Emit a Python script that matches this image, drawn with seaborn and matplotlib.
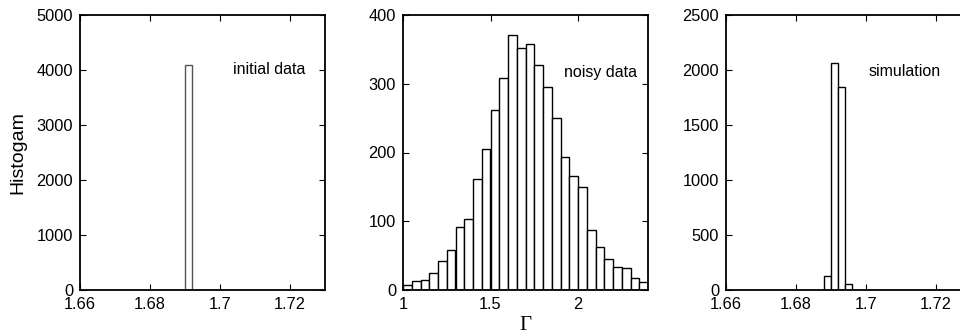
import numpy as np
import matplotlib
matplotlib.use("Agg")
import matplotlib.pyplot as plt
import seaborn as sns

sns.set_style("ticks")
plt.rcParams["font.family"] = ["Liberation Sans", "DejaVu Sans"]
plt.rcParams["xtick.direction"] = "in"
plt.rcParams["ytick.direction"] = "in"
plt.rcParams["text.color"] = "black"
plt.rcParams["axes.labelcolor"] = "black"
plt.rcParams["xtick.color"] = "black"
plt.rcParams["ytick.color"] = "black"

# initial data: one bin
init_edges = [1.690, 1.692]
init_counts = [4096]

# noisy data: 28 bins of width 0.05 from 1.0 to 2.4
noisy_edges = np.linspace(1.0, 2.4, 29)
noisy_counts = [8, 13, 15, 25, 42, 58, 91, 104, 161, 205, 262, 308, 371, 352,
                358, 327, 295, 250, 194, 166, 150, 87, 63, 45, 33, 32, 17, 12]

# simulation
sim_edges = [1.688, 1.690, 1.692, 1.694, 1.696]
sim_counts = [127, 2060, 1848, 52]

fig = plt.figure(figsize=(9.6, 3.32), dpi=100)
ax1 = fig.add_axes([80/960, 42/332, 245/960, 275/332])
ax2 = fig.add_axes([403/960, 42/332, 245/960, 275/332])
ax3 = fig.add_axes([726/960, 42/332, 245/960, 275/332])

def draw(ax, edges, counts, ec):
    edges = np.asarray(edges, dtype=float)
    centers = (edges[:-1] + edges[1:]) / 2
    sns.histplot(x=centers, weights=counts, bins=list(edges), ax=ax,
                 color="white", edgecolor=ec, linewidth=1.0, alpha=1)

draw(ax1, init_edges, init_counts, "#555555")
draw(ax2, noisy_edges, noisy_counts, "black")
draw(ax3, sim_edges, sim_counts, "black")

ax1.set_xlim(1.66, 1.73)
ax1.set_ylim(0, 5000)
ax1.set_xticks([1.66, 1.68, 1.70, 1.72])
ax1.set_xticklabels(["1.66", "1.68", "1.7", "1.72"])
ax1.set_yticks([0, 1000, 2000, 3000, 4000, 5000])
ax1.text(1.7038, 4000, "initial data", fontsize=11.5, va="center")
ax1.set_ylabel("Histogam", fontsize=14, labelpad=7)

ax2.set_xlim(1.0, 2.4)
ax2.set_ylim(0, 400)
ax2.set_xticks([1, 1.5, 2])
ax2.set_xticklabels(["1", "1.5", "2"])
ax2.set_yticks([0, 100, 200, 300, 400])
ax2.text(1.92, 316, "noisy data", fontsize=11.5, va="center")
ax2.set_xlabel("Γ", fontsize=15, family=["Liberation Serif", "DejaVu Serif"], labelpad=3)

ax3.set_xlim(1.66, 1.73)
ax3.set_ylim(0, 2500)
ax3.set_xticks([1.66, 1.68, 1.70, 1.72])
ax3.set_xticklabels(["1.66", "1.68", "1.7", "1.72"])
ax3.set_yticks([0, 500, 1000, 1500, 2000, 2500])
ax3.text(1.7007, 1985, "simulation", fontsize=11.5, va="center")

for ax in (ax1, ax2, ax3):
    if ax is not ax1:
        ax.set_ylabel("")
    if ax is not ax2:
        ax.set_xlabel("")
    for s in ax.spines.values():
        s.set_visible(True)
        s.set_linewidth(1.3)
        s.set_color("black")
    ax.tick_params(top=True, right=True, length=4, width=0.8, labelsize=11.8)
    ax.tick_params(axis="x", pad=5)
    ax.tick_params(axis="y", pad=5)

fig.savefig("out.png", dpi=100)
